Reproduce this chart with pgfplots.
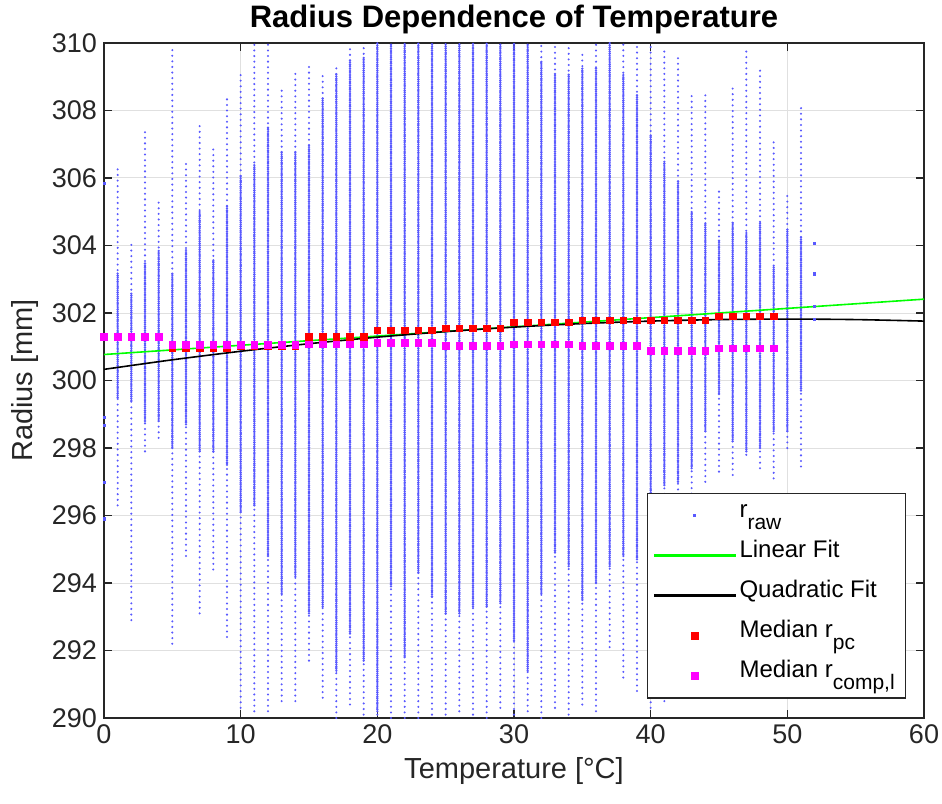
\documentclass[border=0pt]{standalone}
\usepackage{fontspec}
\setmainfont{Liberation Sans}
\usepackage{pgfplots}
\pgfplotsset{compat=1.18}
\definecolor{rawblue}{rgb}{0.35,0.35,1}
\definecolor{axgray}{rgb}{0.15,0.15,0.15}
\definecolor{fitgreen}{rgb}{0,1,0}
\definecolor{medred}{rgb}{1,0,0}
\definecolor{medmag}{rgb}{1,0,1}
\newcommand\sub[1]{\raisebox{-0.9ex}{\fontsize{10.5}{11}\selectfont #1}}
\pgfplotsset{
  greenleg/.style={legend image code/.code={\fill[fitgreen] (0pt,-0.5pt) rectangle (40pt,0.5pt);}},
  blackleg/.style={legend image code/.code={\fill[black] (0pt,-0.45pt) rectangle (40pt,0.45pt);}},
  markleg/.style={legend image code/.code={\draw[mark repeat=2,mark phase=2,##1] plot coordinates {(0pt,0pt) (20pt,0pt) (40pt,0pt)};}},
}
\begin{document}
\begin{tikzpicture}
\begin{axis}[
  scale only axis, width=410pt, height=337.5pt,
  xmin=0, xmax=60, ymin=290, ymax=310,
  xtick={0,10,...,60}, ytick={290,292,...,310},
  tick pos=both, tick align=inside, major tick length=4pt,
  grid=major, grid style={black!12, line width=0.5pt},
  axis line style={axgray, line width=0.6pt},
  every tick/.style={axgray, line width=0.6pt},
  /pgf/number format/assume math mode=true,
  tick label style={font=\fontsize{13.5}{15}\selectfont, text=axgray},
  label style={font=\fontsize{14.5}{16}\selectfont, text=axgray},
  xlabel={Temperature [°C]}, ylabel={Radius [mm]},
  title={Radius Dependence of Temperature},
  title style={font=\fontsize{15.5}{17}\selectfont\bfseries, at={(0.5,1)}, anchor=base, yshift=1.5pt},
  unbounded coords=jump,
  legend style={name=L, at={(0.977,0.0296)}, anchor=south east, draw=none,
    fill=white, font=\fontsize{12}{14}\selectfont, inner xsep=3pt, inner ysep=1pt,
    nodes={inner sep=2pt, text height=9pt, text depth=7pt}},
  legend cell align=left,
]
% raw data: sparse extent of each temperature column
\addplot[rawblue, draw=rawblue, line width=1.15pt, line cap=round, dash pattern=on 0pt off 2.8pt, forget plot] coordinates {
(1,296.3) (1,306.4) (1,nan)
(2,292.9) (2,304.1) (2,nan)
(3,297.9) (3,307.4) (3,nan)
(4,298.3) (4,305.4) (4,nan)
(5,292.2) (5,309.9) (5,nan)
(6,294.8) (6,306.5) (6,nan)
(7,293.1) (7,307.7) (7,nan)
(8,294.4) (8,306.9) (8,nan)
(9,292.4) (9,308.4) (9,nan)
(10,290.3) (10,309.2) (10,nan)
(11,290.2) (11,310) (11,nan)
(12,290.2) (12,310) (12,nan)
(13,290.5) (13,308.6) (13,nan)
(14,290.5) (14,309.1) (14,nan)
(15,291.7) (15,309.4) (15,nan)
(16,290.6) (16,309.1) (16,nan)
(17,290.0) (17,309.4) (17,nan)
(18,290.4) (18,309.9) (18,nan)
(19,290.1) (19,310) (19,nan)
(20,290.1) (20,310) (20,nan)
(21,290.0) (21,310) (21,nan)
(22,290.0) (22,310) (22,nan)
(23,290.0) (23,310) (23,nan)
(24,290.1) (24,310) (24,nan)
(25,290.1) (25,310) (25,nan)
(26,290.2) (26,310) (26,nan)
(27,290.1) (27,310) (27,nan)
(28,290.0) (28,310) (28,nan)
(29,290.3) (29,310) (29,nan)
(30,290.1) (30,310) (30,nan)
(31,290.2) (31,310) (31,nan)
(32,290.0) (32,310) (32,nan)
(33,290.3) (33,310) (33,nan)
(34,290.1) (34,310) (34,nan)
(35,290.4) (35,309.8) (35,nan)
(36,290.2) (36,310) (36,nan)
(37,292.1) (37,310) (37,nan)
(38,291.2) (38,310) (38,nan)
(39,290.8) (39,310) (39,nan)
(40,290.3) (40,310) (40,nan)
(41,290.5) (41,309.9) (41,nan)
(42,290.8) (42,309.7) (42,nan)
(43,292.0) (43,308.5) (43,nan)
(44,297.0) (44,308.5) (44,nan)
(45,297.3) (45,305.7) (45,nan)
(46,297.2) (46,308.7) (46,nan)
(47,297.8) (47,309.9) (47,nan)
(48,297.4) (48,309.2) (48,nan)
(49,297.1) (49,307.2) (49,nan)
(50,298.0) (50,305.5) (50,nan)
(51,297.45) (51,308.1) (51,nan)
};
% raw data: dense core of each temperature column
\addplot[rawblue, draw=rawblue, line width=1.3pt, line cap=round, dash pattern=on 0pt off 1.05pt, forget plot] coordinates {
(1,299.5) (1,303.2) (1,nan)
(2,299.4) (2,302.6) (2,nan)
(3,298.8) (3,303.5) (3,nan)
(4,298.8) (4,303.9) (4,nan)
(5,298.0) (5,303.2) (5,nan)
(6,298.7) (6,303.9) (6,nan)
(7,297.9) (7,305.0) (7,nan)
(8,297.9) (8,303.6) (8,nan)
(9,297.5) (9,305.2) (9,nan)
(10,296.1) (10,306.1) (10,nan)
(11,296.3) (11,306.4) (11,nan)
(12,294.8) (12,307.5) (12,nan)
(13,293.7) (13,306.8) (13,nan)
(14,294.2) (14,306.8) (14,nan)
(15,293.1) (15,307.0) (15,nan)
(16,293.3) (16,308.4) (16,nan)
(17,291.4) (17,309.1) (17,nan)
(18,292.5) (18,309.5) (18,nan)
(19,291.7) (19,309.6) (19,nan)
(20,290.2) (20,310) (20,nan)
(21,293.9) (21,310) (21,nan)
(22,291.8) (22,310) (22,nan)
(23,294.3) (23,310) (23,nan)
(24,293.6) (24,310) (24,nan)
(25,293.1) (25,310) (25,nan)
(26,293.1) (26,310) (26,nan)
(27,293.3) (27,310) (27,nan)
(28,293.3) (28,310) (28,nan)
(29,293.4) (29,310) (29,nan)
(30,292.3) (30,310) (30,nan)
(31,291.4) (31,310) (31,nan)
(32,293.7) (32,309.5) (32,nan)
(33,294.9) (33,309.1) (33,nan)
(34,294.5) (34,309.1) (34,nan)
(35,293.5) (35,309.3) (35,nan)
(36,294.0) (36,309.3) (36,nan)
(37,294.5) (37,310) (37,nan)
(38,294.8) (38,309.1) (38,nan)
(39,294.7) (39,308.5) (39,nan)
(40,296.0) (40,307.3) (40,nan)
(41,296.9) (41,306.5) (41,nan)
(42,297.0) (42,305.9) (42,nan)
(43,297.4) (43,305.0) (43,nan)
(44,298.5) (44,304.7) (44,nan)
(45,299.6) (45,304.2) (45,nan)
(46,298.2) (46,304.7) (46,nan)
(47,297.9) (47,304.4) (47,nan)
(48,298.0) (48,304.7) (48,nan)
(49,298.5) (49,303.4) (49,nan)
(50,298.5) (50,304.5) (50,nan)
(51,299.7) (51,304.3) (51,nan)
};
% isolated raw points
\addplot[only marks, mark=square*, mark size=0.55pt, rawblue, mark options={draw=none, fill=rawblue}, forget plot] coordinates {
(0,305.83) (0,298.9) (0,298.66) (0,296.99) (0,295.9)
(52,304.07) (52,303.16) (52,302.2) (52,301.8)
};
\addlegendimage{only marks, mark=square*, mark size=0.5pt, rawblue, mark options={draw=none, fill=rawblue}, markleg}
\addlegendentry{r\sub{raw}}
\addplot[fitgreen, draw=fitgreen, line width=0.8pt, greenleg] coordinates {
(0,300.77) (60,302.41)};
\addlegendentry{Linear Fit}
\addplot[black, draw=black, line width=0.8pt, smooth, blackleg] coordinates {
(0,300.330) (5,300.613) (10,300.866) (15,301.090) (20,301.284) (25,301.448)
(30,301.582) (35,301.686) (40,301.760) (45,301.805) (50,301.820) (55,301.805) (60,301.760)};
\addlegendentry{Quadratic Fit}
\addplot[only marks, mark=square*, mark size=1.65pt, medred, mark options={draw=none, fill=medred}, markleg] coordinates {
(0,301.30) (1,301.30) (2,301.30) (3,301.30) (4,301.30)
(5,300.97) (6,300.97) (7,300.97) (8,300.97) (9,300.97)
(10,301.02) (11,301.02) (12,301.02) (13,301.02) (14,301.02)
(15,301.30) (16,301.30) (17,301.30) (18,301.30) (19,301.30)
(20,301.48) (21,301.48) (22,301.48) (23,301.48) (24,301.48)
(25,301.54) (26,301.54) (27,301.54) (28,301.54) (29,301.54)
(30,301.72) (31,301.72) (32,301.72) (33,301.72) (34,301.72)
(35,301.78) (36,301.78) (37,301.78) (38,301.78) (39,301.78)
(40,301.78) (41,301.78) (42,301.78) (43,301.78) (44,301.78)
(45,301.90) (46,301.90) (47,301.90) (48,301.90) (49,301.90)};
\addlegendentry{Median r\sub{pc}}
\addplot[only marks, mark=square*, mark size=1.65pt, medmag, mark options={draw=none, fill=medmag}, markleg] coordinates {
(0,301.30) (1,301.30) (2,301.30) (3,301.30) (4,301.30)
(5,301.05) (6,301.05) (7,301.05) (8,301.05) (9,301.05)
(10,301.05) (11,301.05) (12,301.05) (13,301.05) (14,301.05)
(15,301.07) (16,301.07) (17,301.07) (18,301.07) (19,301.07)
(20,301.12) (21,301.12) (22,301.12) (23,301.12) (24,301.12)
(25,301.02) (26,301.02) (27,301.02) (28,301.02) (29,301.02)
(30,301.07) (31,301.07) (32,301.07) (33,301.07) (34,301.07)
(35,301.02) (36,301.02) (37,301.02) (38,301.02) (39,301.02)
(40,300.87) (41,300.87) (42,300.87) (43,300.87) (44,300.87)
(45,300.95) (46,300.95) (47,300.95) (48,300.95) (49,300.95)};
\addlegendentry{Median r\sub{comp,l}}
\end{axis}
\draw[axgray, line width=0.6pt] (L.south west) rectangle (L.north east);
\pgfresetboundingbox
\path[use as bounding box] ([shift={(-52pt,-42.5pt)}]current axis.south west) rectangle ([shift={(9pt,21.5pt)}]current axis.north east);
\end{tikzpicture}
\end{document}
